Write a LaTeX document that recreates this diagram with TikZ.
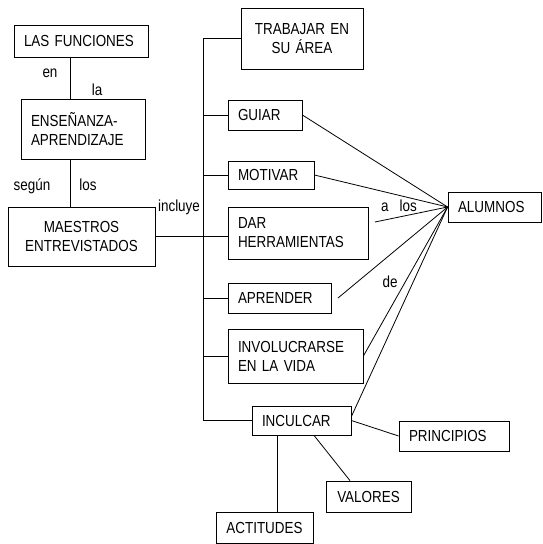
\documentclass[tikz,border=0pt]{standalone}
\usepackage{fontspec}
\setmainfont[FakeStretch=0.84]{Liberation Sans}
\usetikzlibrary{calc}

\begin{document}
\begin{tikzpicture}[
    x=1pt, y=-1pt,
    box/.style={draw, line width=0.8pt, inner xsep=10pt, inner ysep=0pt, align=left, font=\fontsize{16}{19}\selectfont},
    cbox/.style={box, align=center},
    lnk/.style={line width=0.8pt},
    lbl/.style={font=\fontsize{16}{19}\selectfont, inner sep=0pt, anchor=base}
]
\useasboundingbox (0,0) rectangle (542,544);
\node[box, text width=114pt, minimum height=32pt] (fun) at (81,41) {LAS FUNCIONES};
\node[box, text width=104pt, minimum height=60pt] (ens) at (83,129) {ENSEÑANZA-\\APRENDIZAJE};
\node[cbox, text width=127pt, minimum height=59pt] (mae) at (81.5,236.5) {MAESTROS\\ENTREVISTADOS};
\node[cbox, text width=102pt, minimum height=61pt] (tra) at (302,38.5) {TRABAJAR EN\\SU ÁREA};
\node[box, text width=54pt, minimum height=30pt] (gui) at (265,115) {GUIAR};
\node[box, text width=66pt, minimum height=28pt] (mot) at (271,175) {MOTIVAR};
\node[box, text width=120pt, minimum height=52pt] (dar) at (298,233) {DAR\\HERRAMIENTAS};
\node[box, text width=83pt, minimum height=30pt] (apr) at (279.5,298) {APRENDER};
\node[box, text width=115pt, minimum height=54pt] (inv) at (295.5,356) {INVOLUCRARSE\\EN LA VIDA};
\node[box, text width=79pt, minimum height=29pt] (inc) at (301.5,420.5) {INCULCAR};
\node[cbox, text width=80pt, inner xsep=8.5pt, minimum height=31pt] (act) at (264.5,527.5) {ACTITUDES};
\node[cbox, text width=65pt, minimum height=31pt] (val) at (368.5,496.5) {VALORES};
\node[box, text width=90pt, minimum height=30pt] (pri) at (454,436) {PRINCIPIOS};
\node[box, text width=73pt, minimum height=30pt] (alu) at (494.5,207) {ALUMNOS};

\coordinate (stem) at (70,0);
\coordinate (trunk) at (203,0);
\coordinate (darend) at (375,222);
\coordinate (aprend) at (338,298);

\draw[lnk] (stem |- fun.south) -- (stem |- ens.north);
\draw[lnk] (stem |- ens.south) -- (stem |- mae.north);
\draw[lnk] (mae.east) -- (mae.east -| dar.west);
\draw[lnk] (trunk |- tra.west) -- (trunk |- inc.west);
\foreach \n in {tra,gui,mot,apr,inv,inc}
    \draw[lnk] (trunk |- \n.west) -- (\n.west);
\draw[lnk] (gui.east) -- (alu.west);
\draw[lnk] (mot.east) -- (alu.west);
\draw[lnk] (darend) -- (alu.west);
\draw[lnk] (aprend) -- (alu.west);
\draw[lnk] (inv.east) -- (alu.west);
\draw[lnk] ([yshift=4pt]inc.east) -- (alu.west);
\draw[lnk] (inc.east) -- (pri.west);
\draw[lnk] ([xshift=12.5pt]inc.south) -- ([xshift=-18.5pt]val.north);
\draw[lnk] ([xshift=-24.5pt]inc.south) -- ([xshift=-24.5pt]inc.south |- act.north);

\node[lbl] (en) at (50,77) {en};
\node[lbl] (la) at (97,95) {la};
\node[lbl] (segun) at (32,190) {según};
\node[lbl] (los) at (88,190) {los};
\node[lbl] (incl) at (179,211) {incluye};
\node[lbl] (alos) at (399,211) {a\hspace{11pt}los};
\node[lbl] (de) at (390,287) {de};
\end{tikzpicture}
\end{document}
